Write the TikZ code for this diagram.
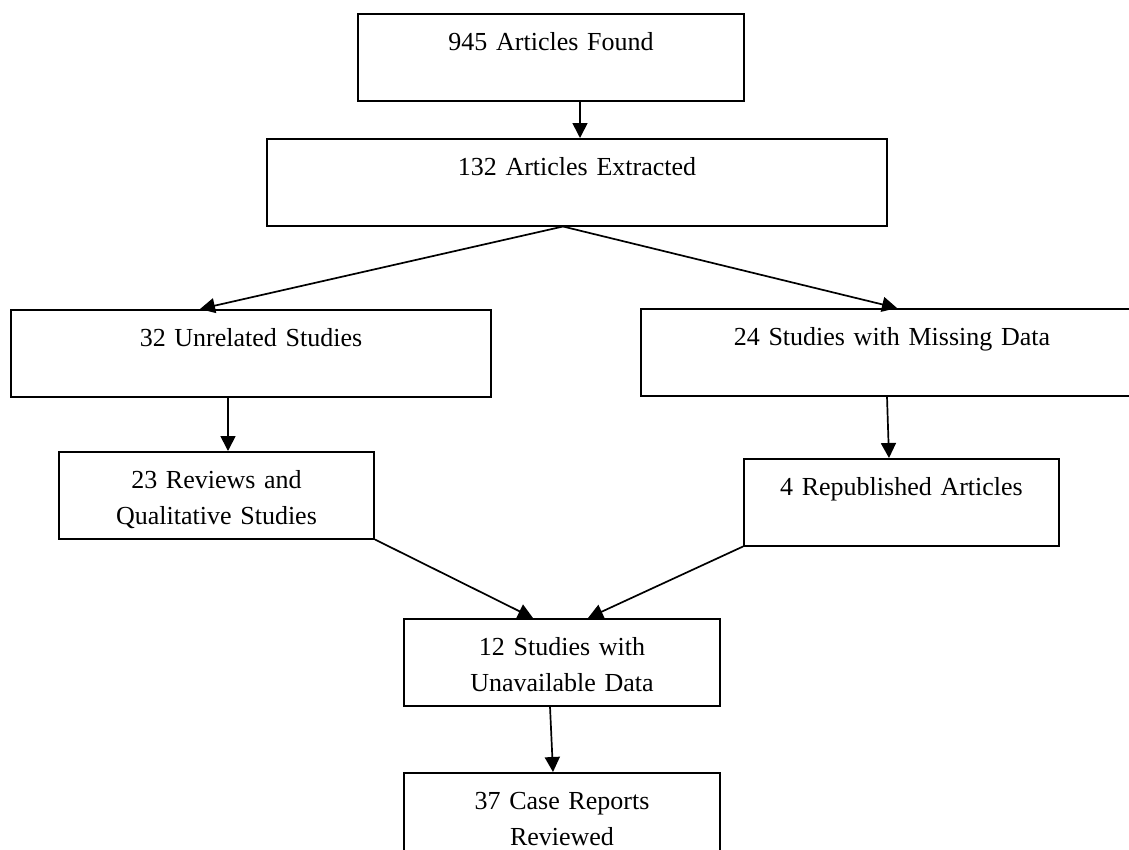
\documentclass[tikz,border=0pt]{standalone}
\usepackage{fontspec}
\setmainfont{Liberation Serif}
\usepackage{tikz}
\usetikzlibrary{arrows.meta}

\tikzset{
  stagebox/.style={draw, line width=2pt, anchor=north, align=center,
    inner xsep=0pt, inner ysep=0pt, text height=36pt, text depth=50.5pt},
  flow/.style={line width=1.7pt, -{Triangle[width=15pt,length=15pt]}}
}

\begin{document}
\begin{tikzpicture}[x=1pt,y=-1pt,font=\fontsize{26}{36}\selectfont]
  \useasboundingbox (0,0) rectangle (1129,849);
  \clip (0,0) rectangle (1129,849);

  \node[stagebox,text width=386pt] (found) at (551,13) {945 Articles Found};
  \node[stagebox,text width=620pt] (extracted) at (577,138) {132 Articles Extracted};
  \node[stagebox,text width=480pt] (unrelated) at (251,309) {32 Unrelated Studies};
  \node[stagebox,text width=502pt] (missing) at (892,308) {24 Studies with Missing Data};
  \node[stagebox,text width=315pt] (reviews) at (216.5,451) {23 Reviews and\\Qualitative Studies};
  \node[stagebox,text width=315pt] (republished) at (901.5,458) {4 Republished Articles};
  \node[stagebox,text width=316pt] (unavailable) at (562,618) {12 Studies with\\Unavailable Data};
  \node[stagebox,text width=316pt] (casereports) at (562,772) {37 Case Reports\\Reviewed};

  \draw[flow] ([xshift=29pt]found.south) -- ([xshift=3pt]extracted.north);
  \draw[flow] ([xshift=-14pt]extracted.south) -- ([xshift=-51pt]unrelated.north);
  \draw[flow] ([xshift=-14pt]extracted.south) -- ([xshift=5pt]missing.north);
  \draw[flow] ([xshift=-23pt]unrelated.south) -- ([xshift=11.5pt]reviews.north);
  \draw[flow] ([xshift=-5pt]missing.south) -- ([xshift=-12.5pt]republished.north);
  \draw[flow] (reviews.south east) -- ([xshift=-29pt]unavailable.north);
  \draw[flow] (republished.south west) -- ([xshift=26pt]unavailable.north);
  \draw[flow] ([xshift=-12pt]unavailable.south) -- ([xshift=-9pt]casereports.north);
\end{tikzpicture}
\end{document}
